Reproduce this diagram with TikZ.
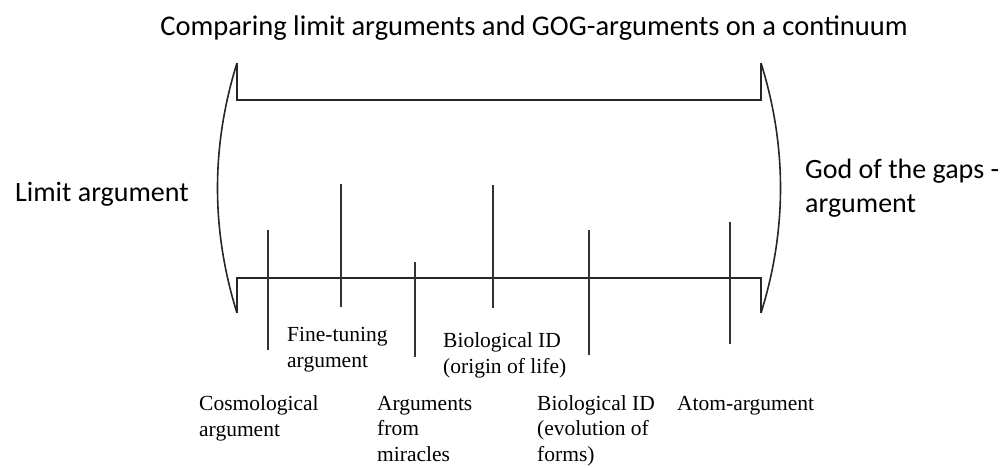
\documentclass[tikz,border=0pt]{standalone}
\usepackage{fontspec}
\setmainfont{Liberation Serif}
\newfontfamily\calib{Carlito}
\begin{document}
\begin{tikzpicture}[x=1pt,y=-1pt,
  line/.style={line width=1.6pt,black!85},
  tick/.style={line width=1.6pt,black!80},
  lab/.style={anchor=base west,inner sep=0pt,font=\fontsize{21.5}{25.5}\selectfont,align=left},
  sans/.style={inner sep=0pt,font=\calib\fontsize{28}{34}\selectfont,align=left}]
\useasboundingbox (0,0) rectangle (1002,467);
% frame coordinates
\coordinate (tl) at (237,63);
\coordinate (tlc) at (237,100);
\coordinate (trc) at (761,100);
\coordinate (tr) at (761,63);
\coordinate (bl) at (237,313);
\coordinate (blc) at (237,278);
\coordinate (brc) at (761,278);
\coordinate (br) at (761,313);
\draw[line] (tl) -- (tlc) -- (trc) -- (tr);
\draw[line] (bl) -- (blc) -- (brc) -- (br);
\draw[line] (tl) .. controls (211,146) and (211,230) .. (bl);
\draw[line] (tr) .. controls (787,146) and (787,230) .. (br);
% ticks
\foreach \n/\x/\a/\b in {1/268/230/350, 2/341/184/307, 3/415/262/357, 4/493/185/308, 5/589/230/355, 6/730/222/344}{
  \coordinate (t\n a) at (\x,\a);
  \coordinate (t\n b) at (\x,\b);
  \draw[tick] (t\n a) -- (t\n b);
}
% labels (base = baseline of last line)
\node[lab] (fine) at (287,367) {Fine-tuning\\argument};
\node[lab] (cosmo) at (199,436) {Cosmological\\argument};
\node[lab] (mir) at (377,461) {Arguments\\from\\miracles};
\node[lab] (orig) at (443,373) {Biological ID\\(origin of life)};
\node[lab] (evol) at (537,461) {Biological ID\\(evolution of\\forms)};
\node[lab] (atom) at (677,410) {Atom-argument};
% sans labels
\node[sans,font=\calib\fontsize{28.5}{34}\selectfont,anchor=base] (title) at (534,35) {Comparing limit arguments and GOG-arguments on a continuum};
\node[sans,anchor=base west] (limit) at (15,201) {Limit argument};
\node[sans,anchor=base west] (gog) at (805,212) {God of the gaps -\\argument};
\end{tikzpicture}
\end{document}
